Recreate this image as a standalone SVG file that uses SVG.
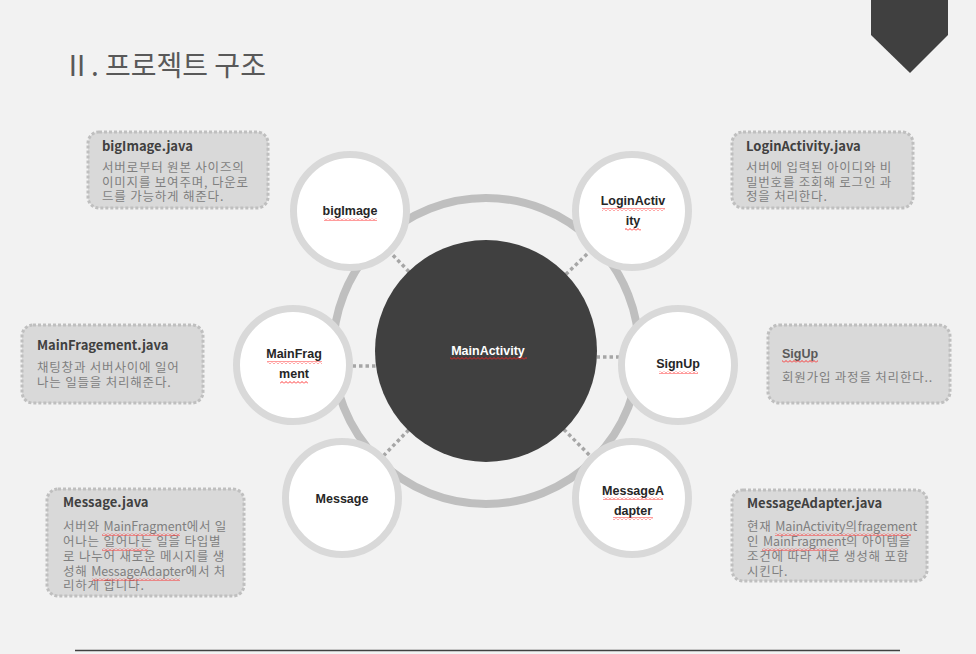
<svg xmlns="http://www.w3.org/2000/svg" width="976" height="654" viewBox="0 0 976 654">
<defs>
<pattern id="sq" width="4" height="3" patternUnits="userSpaceOnUse"><path d="M0 2.5 L2 0.5 L4 2.5" fill="none" stroke="#ff2020" stroke-width="0.9"/></pattern>
<style>
.sat{fill:#ffffff;stroke:#d9d9d9;stroke-width:7}
.lbl{font-family:"Liberation Sans",Arial,sans-serif;font-weight:700;font-size:12.5px;fill:#262626;text-anchor:middle}
.box{fill:#d9d9d9;stroke:#bfbfbf;stroke-width:3;stroke-dasharray:3 2}
.bt{font-family:"Noto Sans CJK KR","Noto Sans",sans-serif;font-weight:700;font-size:13px;fill:#404040}
.bd{font-family:"Noto Sans CJK KR","Noto Sans",sans-serif;font-size:12.5px;fill:#7f7f7f;letter-spacing:0.8px}
.la{letter-spacing:-0.1px}
.con{stroke:#a6a6a6;stroke-width:3.5;stroke-dasharray:3.5 3;fill:none}
.sq{fill:url(#sq)}
</style>
</defs>
<rect width="976" height="654" fill="#f2f2f2"/>
<polygon points="871,0 948,0 948,35 910,73 871,35" fill="#404040"/>
<text x="63" y="76" font-family="'Noto Sans CJK KR',sans-serif" font-size="28" fill="#595959">Ⅱ. 프로젝트 구조</text>
<line x1="75" y1="650.5" x2="900" y2="650.5" stroke="#404040" stroke-width="1.5"/>

<g id="connectors">
<line class="con" x1="486" y1="351" x2="350" y2="211"/>
<line class="con" x1="486" y1="351" x2="632" y2="211"/>
<line class="con" x1="486" y1="366" x2="293" y2="366"/>
<line class="con" x1="486" y1="357" x2="678" y2="357"/>
<line class="con" x1="486" y1="351" x2="342" y2="498"/>
<line class="con" x1="486" y1="351" x2="632" y2="498"/>
</g>

<circle cx="486" cy="351" r="153" fill="none" stroke="#bfbfbf" stroke-width="8"/>

<g id="MainActivity">
<circle cx="486" cy="351" r="111" fill="#404040"/>
<text class="lbl" x="488" y="355" style="fill:#ffffff">MainActivity</text>
<rect class="sq" x="450" y="357" width="77" height="3"/>
</g>

<g id="bigImage">
<circle class="sat" cx="350" cy="211" r="56.5"/>
<text class="lbl" x="350" y="215">bigImage</text>
<rect class="sq" x="324" y="218" width="53" height="3"/>
</g>
<g id="LoginActivity">
<circle class="sat" cx="632" cy="211" r="56.5"/>
<text class="lbl" x="633" y="205">LoginActiv</text>
<text class="lbl" x="633" y="225">ity</text>
<rect class="sq" x="602" y="208" width="63" height="3"/>
<rect class="sq" x="625" y="228" width="16" height="3"/>
</g>
<g id="MainFragment">
<circle class="sat" cx="293" cy="365" r="56.5"/>
<text class="lbl" x="294" y="358">MainFrag</text>
<text class="lbl" x="294" y="378">ment</text>
<rect class="sq" x="267" y="361" width="55" height="3"/>
<rect class="sq" x="280" y="381" width="28" height="3"/>
</g>
<g id="SignUp">
<circle class="sat" cx="678" cy="365" r="56.5"/>
<text class="lbl" x="678" y="368">SignUp</text>
<rect class="sq" x="659" y="371" width="39" height="3"/>
</g>
<g id="Message">
<circle class="sat" cx="342" cy="498" r="56.5"/>
<text class="lbl" x="342" y="503">Message</text>
</g>
<g id="MessageAdapter">
<circle class="sat" cx="632" cy="498" r="56.5"/>
<text class="lbl" x="633" y="495">MessageA</text>
<text class="lbl" x="633" y="515">dapter</text>
<rect class="sq" x="603" y="497" width="60" height="3"/>
<rect class="sq" x="613" y="517" width="40" height="3"/>
</g>

<g id="note-bigImage">
<rect class="box" x="88" y="132" width="180" height="76" rx="11"/>
<text class="bt" x="102" y="151">bigImage.java</text>
<text class="bd" x="102" y="172">서버로부터 원본 사이즈의</text>
<text class="bd" x="102" y="187">이미지를 보여주며, 다운로</text>
<text class="bd" x="102" y="201">드를 가능하게 해준다.</text>
</g>
<g id="note-LoginActivity">
<rect class="box" x="732" y="132" width="181" height="76" rx="11"/>
<text class="bt" x="746" y="151">LoginActivity.java</text>
<text class="bd" x="746" y="172">서버에 입력된 아이디와 비</text>
<text class="bd" x="746" y="187">밀번호를 조회해 로그인 과</text>
<text class="bd" x="746" y="201">정을 처리한다.</text>
</g>
<g id="note-MainFragement">
<rect class="box" x="22" y="325" width="181" height="78" rx="11"/>
<text class="bt" x="37" y="350">MainFragement.java</text>
<text class="bd" x="37" y="372">채팅창과 서버사이에 일어</text>
<text class="bd" x="37" y="387">나는 일들을 처리해준다.</text>
</g>
<g id="note-SigUp">
<rect class="box" x="768" y="325" width="182" height="78" rx="11"/>
<text x="782" y="358" font-family="'Liberation Sans',Arial,sans-serif" font-size="12.5" font-weight="700" fill="#595959">SigUp</text>
<rect class="sq" x="782" y="360" width="36" height="3"/>
<text class="bd" x="782" y="382">회원가입 과정을 처리한다..</text>
</g>
<g id="note-Message">
<rect class="box" x="47" y="489" width="197" height="107" rx="11"/>
<text class="bt" x="63" y="507">Message.java</text>
<text class="bd" x="63" y="531">서버와 <tspan class="la">MainFragment</tspan>에서 일</text>
<text class="bd" x="63" y="546">어나는 일어나는 일을 타입별</text>
<text class="bd" x="63" y="561">로 나누어 새로운 메시지를 생</text>
<text class="bd" x="63" y="576">성해 <tspan class="la">MessageAdapter</tspan>에서 처</text>
<text class="bd" x="63" y="590">리하게 합니다.</text>
<rect class="sq" x="102" y="533" width="78" height="3"/>
<rect class="sq" x="102" y="548" width="46" height="3"/>
<rect class="sq" x="92" y="578" width="88" height="3"/>
</g>
<g id="note-MessageAdapter">
<rect class="box" x="732" y="490" width="195" height="91" rx="11"/>
<text class="bt" x="747" y="508">MessageAdapter.java</text>
<text class="bd" x="747" y="531">현재 <tspan class="la">MainActivity</tspan>의<tspan class="la">fragement</tspan></text>
<text class="bd" x="747" y="546">인 <tspan class="la">MainFragment</tspan>의 아이템을</text>
<text class="bd" x="747" y="561">조건에 따라 새로 생성해 포함</text>
<text class="bd" x="747" y="576">시킨다.</text>
<rect class="sq" x="775" y="533" width="136" height="3"/>
<rect class="sq" x="762" y="548" width="76" height="3"/>
</g>
</svg>
